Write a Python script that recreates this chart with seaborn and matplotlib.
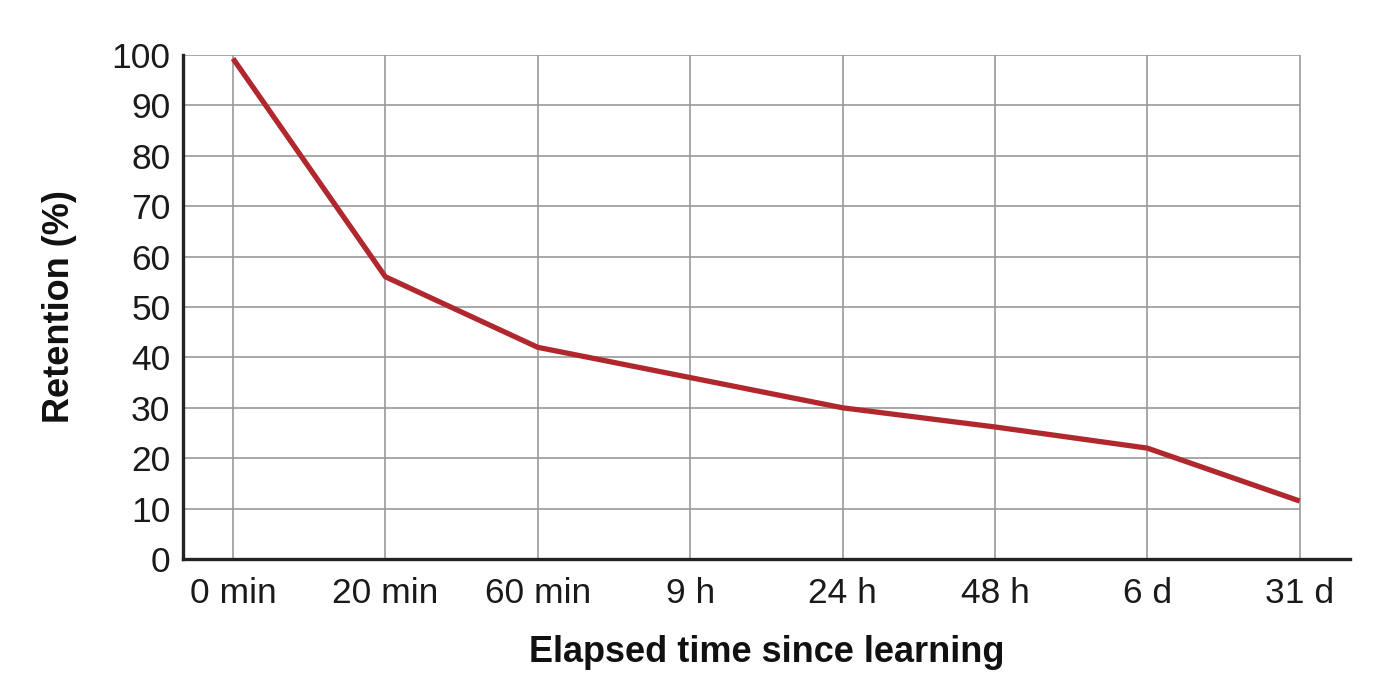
import numpy as np
import pandas as pd
import matplotlib
matplotlib.use("Agg")
import matplotlib.pyplot as plt
import seaborn as sns

categories = ["0 min", "20 min", "60 min", "9 h", "24 h", "48 h", "6 d", "31 d"]
retention = [99.3, 56.0, 42.0, 36.0, 30.0, 26.2, 22.0, 11.5]
yticks = [0, 10, 20, 30, 40, 50, 60, 70, 80, 90, 100]

sns.set_theme(style="white")
plt.rcParams["font.family"] = ["Liberation Sans", "DejaVu Sans"]

df = pd.DataFrame({"pos": np.arange(len(categories)), "Retention": retention})

fig = plt.figure(figsize=(13.82, 7.0), dpi=100)
ax = fig.add_axes([183 / 1382, 1 - 559 / 700, (1350 - 183) / 1382, (559 - 55) / 700])

n_last = len(categories) - 1
# grid
ax.hlines(yticks[1:], -0.33, n_last, colors="#999999", linewidth=1.2, zorder=1)
ax.vlines(df["pos"], 0, 100, colors="#999999", linewidth=1.2, zorder=1)

sns.lineplot(data=df, x="pos", y="Retention", ax=ax, color="#b0282e",
             linewidth=3.8, zorder=3, solid_joinstyle="round", solid_capstyle="butt")

ax.set_xlim(-0.328, 7.33)
ax.set_ylim(0, 100)
ax.set_xticks(df["pos"])
ax.set_xticklabels(categories)
ax.set_yticks(yticks)
ax.set_yticklabels([str(v) for v in yticks])
ax.tick_params(axis="both", length=0, labelsize=25.5, colors="#1a1a1a")
ax.tick_params(axis="x", pad=13)
ax.tick_params(axis="y", pad=9)

for s in ["top", "right"]:
    ax.spines[s].set_visible(False)
for s in ["left", "bottom"]:
    ax.spines[s].set_color("#222222")
    ax.spines[s].set_linewidth(2.4)
    ax.spines[s].set_zorder(4)

ax.set_xlabel("Elapsed time since learning", fontsize=26, fontweight="bold",
              color="#111111", labelpad=18)
ax.set_ylabel("Retention (%)", fontsize=26, fontweight="bold",
              color="#111111", labelpad=25)
ax.grid(False)

fig.savefig("out.png", dpi=100)
